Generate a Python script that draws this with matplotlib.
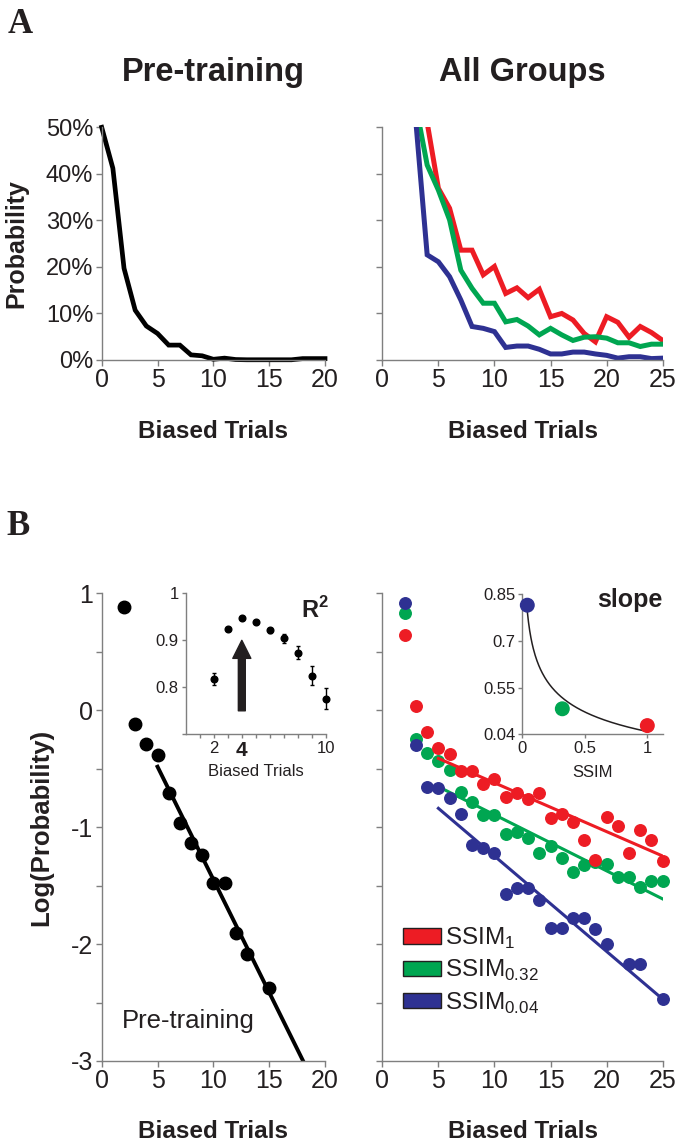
import numpy as np
import matplotlib
matplotlib.use('Agg')
import matplotlib.pyplot as plt
from matplotlib.patches import Patch
from matplotlib.ticker import FuncFormatter, MultipleLocator

plt.rcParams['font.family'] = ['Liberation Sans', 'DejaVu Sans']
plt.rcParams['mathtext.fontset'] = 'custom'
plt.rcParams['mathtext.rm'] = 'Liberation Sans'
plt.rcParams['mathtext.bf'] = 'Liberation Sans:bold'
plt.rcParams['axes.unicode_minus'] = False

# ---- data ----
# Panel A left: pre-training probability (%) vs biased trials 0..20
pre_x = np.arange(0, 21)
pre_prob = [50, 41.2, 19.7, 10.7, 7.3, 5.7, 3.2, 3.2, 1.1, 0.9, 0.15,
            0.4, 0.1, 0.05, 0.05, 0.05, 0.05, 0.05, 0.3, 0.3, 0.3]

# Panel A right: all groups (%) vs biased trials 3..25
grp_x = np.arange(3, 26)
red_prob = [75, 51, 36.9, 32.6, 23.6, 23.6, 18.3, 20.1, 14.3, 15.5, 13.4, 15.2,
            9.3, 10.0, 8.6, 5.7, 3.9, 9.3, 8.1, 4.9, 7.2, 5.9, 4.2]
green_prob = [54.6, 41.9, 36.5, 30.1, 19.3, 15.4, 12.2, 12.2, 8.2, 8.7, 7.3, 5.4,
              6.8, 5.4, 4.2, 4.9, 5.0, 4.7, 3.7, 3.7, 2.9, 3.4, 3.4]
blue_prob = [51, 22.6, 21.1, 17.9, 12.9, 7.2, 6.8, 6.1, 2.7, 3.0, 3.0, 2.3,
             1.3, 1.3, 1.7, 1.7, 1.3, 1.0, 0.4, 0.7, 0.7, 0.3, 0.4]

# Panel B left: log probability, pre-training
pre_log_x = [2, 3, 4, 5, 6, 7, 8, 9, 10, 11, 12, 13, 15]
pre_log_y = [0.885, -0.115, -0.287, -0.383, -0.711, -0.962, -1.139, -1.239,
             -1.48, -1.48, -1.909, -2.088, -2.374]
pre_fit = (-0.193, 0.482)   # slope, intercept

# Panel B right: log probability per group
red_log_x = list(range(2, 26))
red_log_y = [0.643, 0.039, -0.189, -0.326, -0.378, -0.52, -0.52, -0.634, -0.589,
             -0.74, -0.706, -0.762, -0.706, -0.919, -0.891, -0.954, -1.11, -1.281,
             -0.916, -0.988, -1.219, -1.025, -1.11, -1.287]
green_log_x = list(range(2, 26))
green_log_y = [0.834, -0.246, -0.369, -0.431, -0.511, -0.697, -0.782, -0.896, -0.896,
               -1.062, -1.039, -1.096, -1.224, -1.162, -1.261, -1.381, -1.32, -1.30,
               -1.315, -1.425, -1.425, -1.51, -1.458, -1.458]
blue_log_x = [2, 3, 4, 5, 6, 7, 8, 9, 10, 11, 12, 13, 14, 15, 16, 17, 18, 19, 20, 22, 23, 25]
blue_log_y = [0.92, -0.298, -0.654, -0.668, -0.754, -0.891, -1.153, -1.181, -1.224,
              -1.575, -1.524, -1.524, -1.624, -1.866, -1.866, -1.775, -1.775, -1.87,
              -1.997, -2.171, -2.171, -2.473]
red_fit = (-0.04175, -0.2033)
green_fit = (-0.048, -0.414)
blue_fit = (-0.0816, -0.431)

# Inset R^2 vs window size
r2_x = [2, 3, 4, 5, 6, 7, 8, 9, 10]
r2_y = [0.817, 0.923, 0.948, 0.938, 0.921, 0.904, 0.874, 0.825, 0.776]
r2_err = [0.013, 0.003, 0.0, 0.0, 0.005, 0.009, 0.013, 0.021, 0.022]

# Inset slope vs SSIM
ssim = [0.04, 0.32, 1.0]
slope = [0.815, 0.482, 0.428]
ssim_labels = ['SSIM$_{1}$', 'SSIM$_{0.32}$', 'SSIM$_{0.04}$']

RED, GREEN, BLUE = '#ED1C24', '#00A651', '#2E3192'
TXT = '#231f20'
SPINE = '#7f7f7f'

W, H = 685, 1148
fig = plt.figure(figsize=(W / 100, H / 100), dpi=100)


def box(x0, x1, ytop, ybot):
    return [x0 / W, 1 - ybot / H, (x1 - x0) / W, (ybot - ytop) / H]


def style(ax, fs_x=17, fs_y=17):
    for s in ['top', 'right']:
        ax.spines[s].set_visible(False)
    for s in ['left', 'bottom']:
        ax.spines[s].set_color(SPINE)
        ax.spines[s].set_linewidth(1)
    ax.tick_params(which='both', direction='out', length=4, width=1, color=SPINE,
                   labelcolor=TXT, pad=2)
    ax.tick_params(axis='x', labelsize=fs_x)
    ax.tick_params(axis='y', labelsize=fs_y)


# ---- Panel A ----
axA1 = fig.add_axes(box(101.7, 325, 127.3, 360))
axA1.plot(pre_x, np.array(pre_prob) / 100, color='black', lw=3.4,
          solid_joinstyle='miter', clip_on=False)
axA1.set_xlim(0, 20)
axA1.set_ylim(0, 0.5)
axA1.set_xticks([0, 5, 10, 15, 20])
axA1.set_yticks(np.arange(0, 0.51, 0.1))
axA1.yaxis.set_major_formatter(FuncFormatter(lambda v, p: f'{v * 100:.0f}%'))
style(axA1, 18, 17)

axA2 = fig.add_axes(box(382.3, 662.7, 127.3, 360))
for vals, c in [(red_prob, RED), (green_prob, GREEN), (blue_prob, BLUE)]:
    axA2.plot(grp_x, np.array(vals) / 100, color=c, lw=3.6, solid_joinstyle='miter')
axA2.set_xlim(0, 25)
axA2.set_ylim(0, 0.5)
axA2.set_xticks([0, 5, 10, 15, 20, 25])
axA2.set_yticks(np.arange(0, 0.51, 0.1))
axA2.set_yticklabels([])
style(axA2, 18, 17)

# ---- Panel B ----
axB1 = fig.add_axes(box(101.7, 325, 593.3, 1061))
fx = np.linspace(5, 20, 50)
axB1.plot(fx, pre_fit[0] * fx + pre_fit[1], color='black', lw=2.8)
axB1.plot(pre_log_x, pre_log_y, 'o', color='black', ms=9, clip_on=False)
axB1.set_xlim(0, 20)
axB1.set_ylim(-3, 1)
axB1.set_xticks([0, 5, 10, 15, 20])
axB1.set_yticks([-3, -2, -1, 0, 1])
axB1.yaxis.set_minor_locator(MultipleLocator(0.5))
style(axB1, 18, 18)
axB1.text(1.8, -2.72, 'Pre-training', fontsize=18.5, color=TXT,
          ha='left', va='baseline')

axB2 = fig.add_axes(box(382.3, 662.7, 593.3, 1061))
fx2 = np.linspace(5, 25, 50)
for xs, ys, fit, c in [(green_log_x, green_log_y, green_fit, GREEN),
                       (red_log_x, red_log_y, red_fit, RED),
                       (blue_log_x, blue_log_y, blue_fit, BLUE)]:
    axB2.plot(xs, ys, 'o', color=c, ms=8.3, clip_on=False)
    axB2.plot(fx2, fit[0] * fx2 + fit[1], color=c, lw=2.2)
axB2.set_xlim(0, 25)
axB2.set_ylim(-3, 1)
axB2.set_xticks([0, 5, 10, 15, 20, 25])
axB2.set_yticks([-3, -2, -1, 0, 1])
axB2.yaxis.set_minor_locator(MultipleLocator(0.5))
axB2.set_yticklabels([])
style(axB2, 18, 18)
handles = [Patch(facecolor=c, edgecolor=TXT, lw=1) for c in (RED, GREEN, BLUE)]
axB2.legend(handles, ssim_labels, loc='upper left', bbox_to_anchor=(0.075, 0.29),
            frameon=False, fontsize=17.5, handlelength=1.55, handleheight=0.6,
            handletextpad=0.15, labelspacing=0.3, borderaxespad=0, borderpad=0,
            labelcolor=TXT)

# ---- Inset R^2 ----
axI1 = fig.add_axes(box(185.7, 326, 593.3, 734.3))
axI1.errorbar(r2_x, r2_y, yerr=r2_err, fmt='o', color='black', ms=4.8,
              elinewidth=1, capsize=1.5, clip_on=False)
axI1.annotate('', xy=(4, 0.9), xytext=(4, 0.75),
              arrowprops=dict(width=5, headwidth=13, headlength=13,
                              color='#231f20', shrink=0))
axI1.set_xlim(0, 10)
axI1.set_ylim(0.7, 1)
axI1.set_xticks(range(1, 11))
axI1.set_xticklabels(['', '2', '', '4', '', '', '', '', '', '10'])
axI1.set_yticks([0.7, 0.8, 0.9, 1.0])
axI1.set_yticklabels(['', '0.8', '0.9', '1'])
style(axI1, 12, 12)
axI1.tick_params(length=3)
lbl4 = axI1.get_xticklabels()[3]
lbl4.set_fontweight('bold')
lbl4.set_fontsize(15)
axI1.set_xlabel('Biased Trials', fontsize=12, color=TXT, labelpad=3)
axI1.text(8.2, 0.948, 'R$^{\\mathbf{2}}$', fontsize=17, fontweight='bold', color=TXT,
          ha='left', va='baseline')

# ---- Inset slope ----
axI2 = fig.add_axes(box(522.3, 662.7, 594.3, 734.3))
b, a = np.polyfit(np.log(ssim), np.log(slope), 1)
sx = np.linspace(ssim[0], ssim[-1], 200)
axI2.plot(sx, np.exp(a) * sx ** b, color=TXT, lw=1.1)
axI2.scatter(ssim, slope, s=95, c=[BLUE, GREEN, RED], zorder=3, clip_on=False)
axI2.set_xlim(0, 1.123)
axI2.set_ylim(0.4, 0.85)
axI2.set_xticks([0, 0.5, 1])
axI2.set_xticklabels(['0', '0.5', '1'])
axI2.set_yticks([0.4, 0.55, 0.7, 0.85])
axI2.set_yticklabels(['0.04', '0.55', '0.7', '0.85'])
style(axI2, 12, 12)
axI2.tick_params(length=3)
axI2.set_xlabel('SSIM', fontsize=12, color=TXT, labelpad=6)
axI2.text(1.12, 0.81, 'slope', fontsize=18, fontweight='bold', color=TXT,
          ha='right', va='baseline')

# ---- figure text ----
fig.text(213.4 / W, 1 - 81 / H, 'Pre-training', fontsize=23.5, fontweight='bold',
         color=TXT, ha='center', va='baseline')
fig.text(522.5 / W, 1 - 81 / H, 'All Groups', fontsize=23.5, fontweight='bold',
         color=TXT, ha='center', va='baseline')
for xc, yc in [(213.4, 432), (522.5, 432), (213.4, 1132), (522.5, 1132)]:
    fig.text(xc / W, 1 - yc / H, 'Biased Trials', fontsize=17.5, fontweight='bold',
             color=TXT, ha='center', va='center')
fig.text(16 / W, 1 - 244 / H, 'Probability', fontsize=18, fontweight='bold',
         color=TXT, ha='center', va='center', rotation=90)
fig.text(41 / W, 1 - 827.5 / H, 'Log(Probability)', fontsize=18.5, fontweight='bold',
         color=TXT, ha='center', va='center', rotation=90)
fig.text(8 / W, 1 - 33 / H, 'A', fontsize=25, fontweight='bold', color=TXT,
         family='Liberation Serif', ha='left', va='baseline')
fig.text(6 / W, 1 - 535 / H, 'B', fontsize=25, fontweight='bold', color=TXT,
         family='Liberation Serif', ha='left', va='baseline')

fig.savefig('out.png', dpi=100)
